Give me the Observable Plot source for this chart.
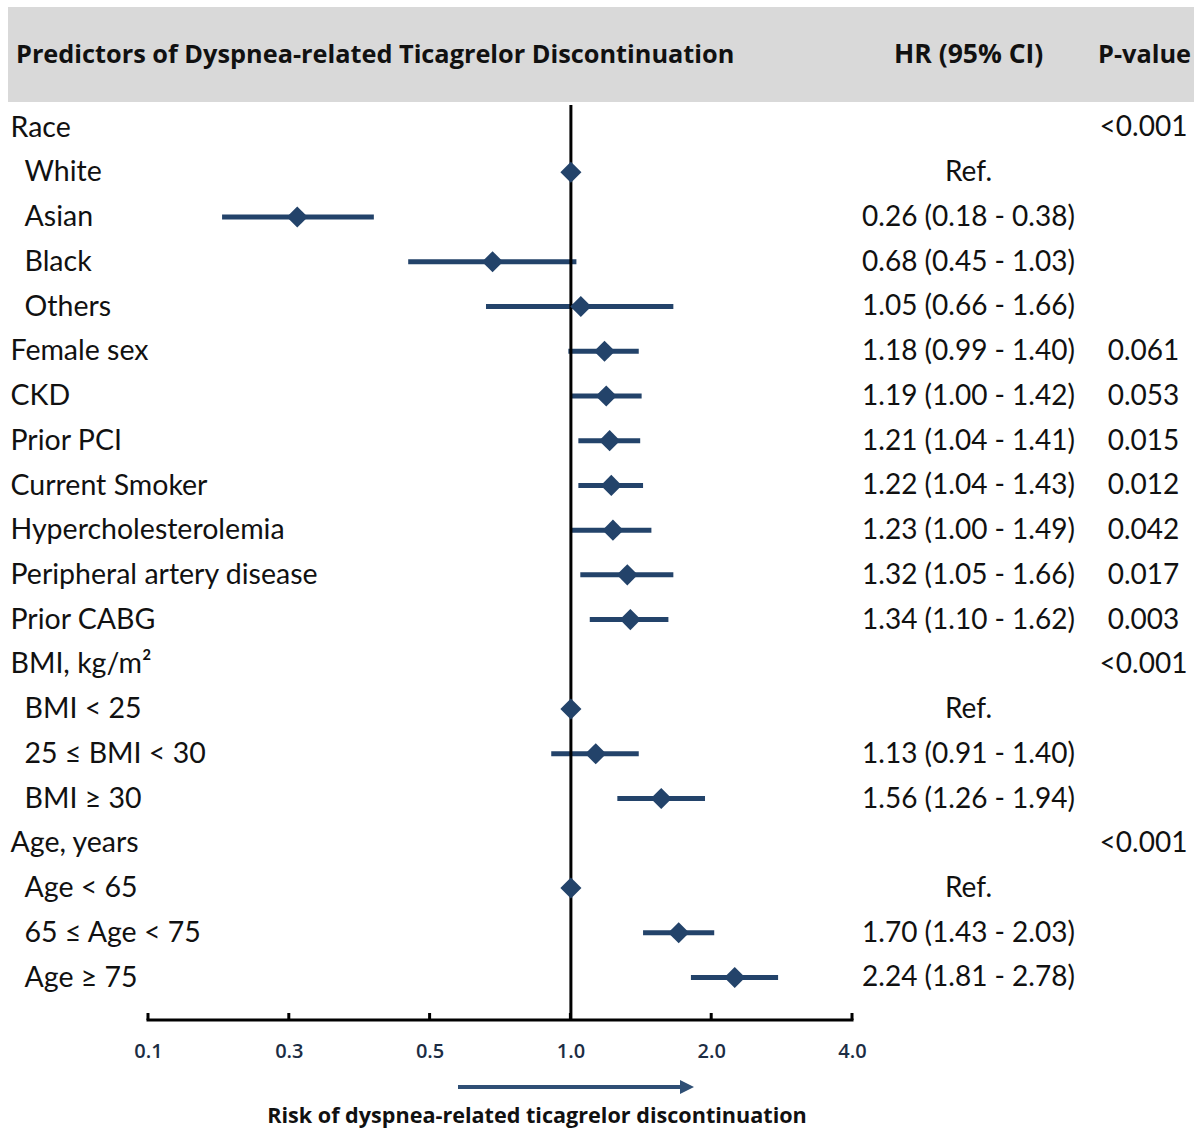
<!DOCTYPE html>
<html>
<head>
<meta charset="utf-8">
<script src="https://cdn.jsdelivr.net/npm/d3@7"></script>
<script src="https://cdn.jsdelivr.net/npm/@observablehq/plot@0.6"></script>
<style>
  html, body { margin: 0; padding: 0; background: #fff; }
  #page { position: relative; width: 1194px; height: 1141px; overflow: hidden; }
  #header { position: absolute; left: 8px; top: 7px; width: 1186px; height: 95px; background: #d9d9d9;
            font-family: "Open Sans", sans-serif; font-weight: 700; color: #111; font-size: 25.3px; }
  #header span { position: absolute; top: 48%; transform: translateY(-50%); white-space: nowrap; }
  #chart { position: absolute; left: 0; top: 102px; }
  #caption { position: absolute; top: 1100px; left: 0; width: 1074px; text-align: center;
             font-family: "Open Sans", sans-serif; font-weight: 700; font-size: 21.6px; color: #111; white-space: nowrap; }
</style>
</head>
<body>
<div id="page">
  <div id="header">
    <span style="left:8px">Predictors of Dyspnea-related Ticagrelor Discontinuation</span>
    <span style="left:886px;font-size:26.5px">HR (95% CI)</span>
    <span style="left:1090px">P-value</span>
  </div>
  <div id="chart"></div>
  <svg id="arrow" width="1194" height="30" style="position:absolute;left:0;top:1072px">
    <line x1="458" x2="682" y1="15" y2="15" stroke="#2f4f75" stroke-width="4"></line>
    <path d="M680,8 L694,15 L680,22 Z" fill="#2f4f75"></path>
  </svg>
  <div id="caption">Risk of dyspnea-related ticagrelor discontinuation</div>
</div>
<script>
// ---- data ----
const labels = ["Race", "White", "Asian", "Black", "Others", "Female sex", "CKD", "Prior PCI",
  "Current Smoker", "Hypercholesterolemia", "Peripheral artery disease", "Prior CABG",
  "BMI, kg/m²", "BMI < 25", "25 ≤ BMI < 30", "BMI ≥ 30",
  "Age, years", "Age < 65", "65 ≤ Age < 75", "Age ≥ 75"];
const level = [0, 1, 1, 1, 1, 0, 0, 0, 0, 0, 0, 0, 0, 1, 1, 1, 0, 1, 1, 1];
const hr =     [null, 1, 0.26, 0.68, 1.05, 1.18, 1.19, 1.21, 1.22, 1.23, 1.32, 1.34, null, 1, 1.13, 1.56, null, 1, 1.70, 2.24];
const ciLow =  [null, null, 0.18, 0.45, 0.66, 0.99, 1.00, 1.04, 1.04, 1.00, 1.05, 1.10, null, null, 0.91, 1.26, null, null, 1.43, 1.81];
const ciHigh = [null, null, 0.38, 1.03, 1.66, 1.40, 1.42, 1.41, 1.43, 1.49, 1.66, 1.62, null, null, 1.40, 1.94, null, null, 2.03, 2.78];
const pValues = ["<0.001", "", "", "", "", "0.061", "0.053", "0.015", "0.012", "0.042", "0.017", "0.003",
  "<0.001", "", "", "", "<0.001", "", "", ""];
const xTicks = [0.125, 0.25, 0.5, 1, 2, 4];
const xTickLabels = ["0.1", "0.3", "0.5", "1.0", "2.0", "4.0"];

// ---- table ----
const f2 = d3.format(".2f");
const rows = labels.map((label, i) => ({
  id: i, label, level: level[i], hr: hr[i], lo: ciLow[i], hi: ciHigh[i],
  hrText: hr[i] == null ? "" : (ciLow[i] == null ? "Ref." : `${f2(hr[i])} (${f2(ciLow[i])} - ${f2(ciHigh[i])})`),
  p: pValues[i]
}));

const navy = "#23436a";
const textColor = "#111";
const bodyFont = "Lato, sans-serif";
const labelSize = 28.5;
const numSize = 28;

function axisLine(index, scales, values, dimensions) {
  const x = scales.x;
  const y0 = dimensions.height - dimensions.marginBottom;
  const g = d3.create("svg:g").attr("stroke", "#000").attr("stroke-width", 3);
  g.append("line")
    .attr("x1", x(xTicks[0]) - 1.5).attr("x2", x(xTicks[xTicks.length - 1]) + 1.5)
    .attr("y1", y0).attr("y2", y0);
  g.selectAll("line.tick").data(xTicks).join("line").attr("class", "tick")
    .attr("x1", d => x(d)).attr("x2", d => x(d))
    .attr("y1", y0).attr("y2", y0 - 7);
  return g.node();
}

const chart = Plot.plot({
  width: 1194,
  height: 968,
  marginLeft: 148,
  marginRight: 342,
  marginTop: 3,
  marginBottom: 50,
  style: {fontFamily: bodyFont, background: "transparent"},
  x: {type: "log", base: 2, domain: [xTicks[0], xTicks[xTicks.length - 1]], axis: null},
  y: {type: "point", domain: rows.map(d => d.id), range: [25, 875], padding: 0, round: false, axis: null},
  marks: [
    Plot.ruleY(rows.filter(d => d.lo != null), {y: "id", x1: "lo", x2: "hi", stroke: navy, strokeWidth: 5}),
    Plot.ruleX([1], {stroke: "#000", strokeWidth: 3}),
    axisLine,
    Plot.text(xTicks, {x: d => d, frameAnchor: "bottom", lineAnchor: "middle", dy: 31, text: (d, i) => xTickLabels[i],
      fontFamily: "Open Sans, sans-serif", fontSize: 20, fontWeight: 600, fill: "#1c2d44"}),
    Plot.dot(rows.filter(d => d.hr != null), {y: "id", x: "hr", symbol: "diamond2", r: 9.5, fill: navy, stroke: "none"}),
    Plot.text(rows.filter(d => d.level === 0), {y: "id", text: "label", frameAnchor: "left", dx: -138,
      textAnchor: "start", fontSize: labelSize, fill: textColor}),
    Plot.text(rows.filter(d => d.level === 1), {y: "id", text: "label", frameAnchor: "left", dx: -124,
      textAnchor: "start", fontSize: labelSize, fill: textColor}),
    Plot.text(rows, {y: "id", text: "hrText", frameAnchor: "right", dx: 116, textAnchor: "middle",
      fontSize: numSize, fill: textColor}),
    Plot.text(rows, {y: "id", text: "p", frameAnchor: "right", dx: 291, textAnchor: "middle",
      fontSize: numSize, fill: textColor})
  ]
});
document.getElementById("chart").appendChild(chart);
</script>
</body>
</html>
